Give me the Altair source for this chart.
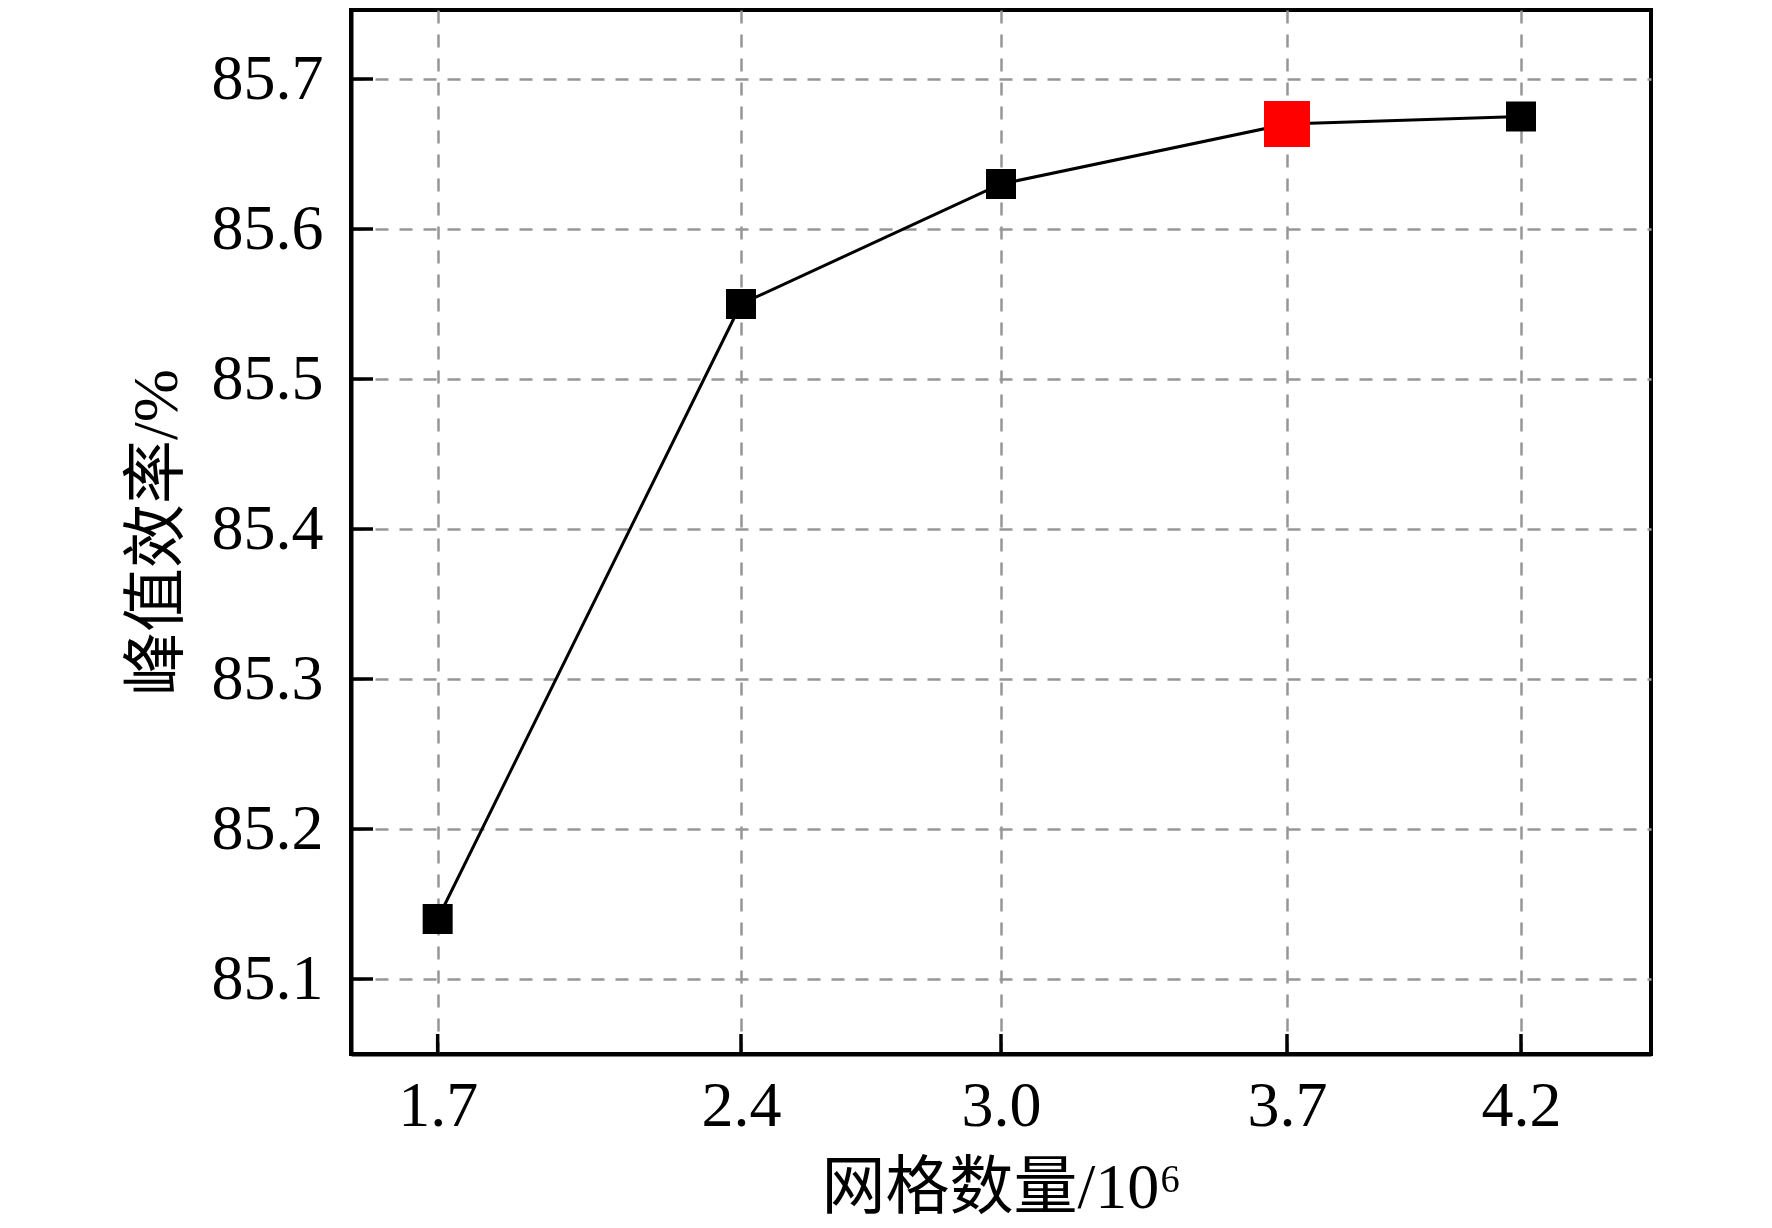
import pandas as pd
import altair as alt

# grid count (x10^6) and peak efficiency (%)
mesh = [1.7, 2.4, 3.0, 3.66, 4.2]
efficiency = [85.14, 85.55, 85.63, 85.67, 85.675]
chosen = [False, False, False, True, False]

y_ticks = [85.1, 85.2, 85.3, 85.4, 85.5, 85.6, 85.7]

W, H = 1300, 1044
FONT = "Liberation Serif, Noto Sans CJK SC"

data = pd.DataFrame({"mesh": mesh, "eff": efficiency, "chosen": chosen})
yticks_df = pd.DataFrame({"eff": y_ticks})

x_scale = alt.Scale(domain=[1.5, 4.5], nice=False, zero=False)
y_scale = alt.Scale(domain=[85.05, 85.746], nice=False, zero=False)

base = alt.Chart(data)

line = base.mark_line(color="black", strokeWidth=3).encode(
    x=alt.X(
        "mesh:Q",
        scale=x_scale,
        axis=alt.Axis(
            title="网格数量/10⁶",
            values=mesh,
            format=".1f",
            ticks=False,
            labelPadding=20,
            titleY=134,
            titleBaseline="middle",
        ),
    ),
    y=alt.Y(
        "eff:Q",
        scale=y_scale,
        axis=alt.Axis(
            title="峰值效率/%",
            values=y_ticks,
            format=".1f",
            ticks=False,
            labelPadding=28,
            titleX=-194,
            titleAngle=270,
            titleBaseline="middle",
        ),
    ),
)

points = base.mark_square(opacity=1).encode(
    x=alt.X("mesh:Q", scale=x_scale),
    y=alt.Y("eff:Q", scale=y_scale),
    color=alt.Color(
        "chosen:N",
        scale=alt.Scale(domain=[False, True], range=["black", "#ff0000"]),
        legend=None,
    ),
    size=alt.Size(
        "chosen:N",
        scale=alt.Scale(domain=[False, True], range=[900, 2116]),
        legend=None,
    ),
)

# inward ticks
xticks = base.mark_rule(color="black", strokeWidth=3.5).encode(
    x=alt.X("mesh:Q", scale=x_scale),
    y=alt.value(H - 20),
    y2=alt.value(H),
)
yticks = alt.Chart(yticks_df).mark_rule(color="black", strokeWidth=3.5).encode(
    y=alt.Y("eff:Q", scale=y_scale),
    x=alt.value(0),
    x2=alt.value(22),
)

chart = (
    alt.layer(line, xticks, yticks, points)
    .properties(
        width=W,
        height=H,
        autosize=alt.AutoSizeParams(type="none"),
        padding={"left": 343, "top": 2, "right": 30, "bottom": 172},
    )
    .configure_view(stroke="black", strokeWidth=4)
    .configure_axis(
        labelFont=FONT,
        titleFont=FONT,
        labelFontSize=64,
        titleFontSize=64,
        labelColor="black",
        titleColor="black",
        titleFontWeight="normal",
        domainColor="black",
        domainWidth=4,
        gridColor="#969696",
        gridWidth=2.5,
        gridDash=[13, 11],
        labelFlush=False,
        labelOverlap=False,
    )
)

chart.save("out.html", embed_options={"renderer": "svg", "actions": False})
